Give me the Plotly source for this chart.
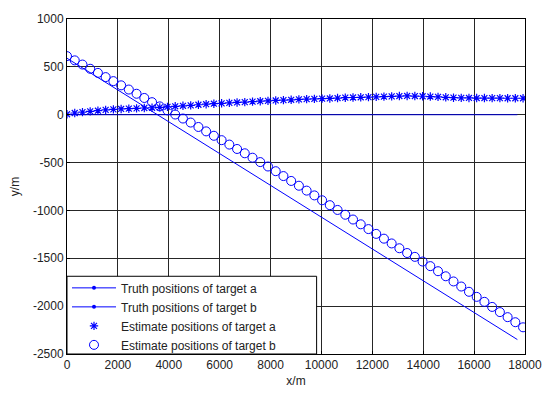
import plotly.graph_objects as go

# Truth trajectories (sampled every ~300 m)
truth_x = [0, 17700]
truth_a_y = [0, 0]
truth_b_y = [590, -2349]

# Estimated positions
est_x = [0, 304, 608, 911, 1215, 1519, 1823, 2127, 2430, 2734,
         3038, 3342, 3646, 3949, 4253, 4557, 4861, 5165, 5468, 5772,
         6076, 6380, 6684, 6987, 7291, 7595, 7899, 8203, 8506, 8810,
         9114, 9418, 9722, 10025, 10329, 10633, 10937, 11241, 11544, 11848,
         12152, 12456, 12760, 13063, 13367, 13671, 13975, 14279, 14582, 14886,
         15190, 15494, 15798, 16101, 16405, 16709, 17013, 17317, 17620, 17924]
est_a_y = [5, 18, 27, 35, 42, 50, 56, 60, 63, 66,
           70, 73, 77, 82, 88, 93, 98, 104, 110, 115,
           119, 124, 128, 132, 137, 141, 145, 149, 152, 156,
           160, 163, 166, 168, 170, 174, 178, 180, 182, 184,
           186, 189, 192, 195, 196, 195, 193, 190, 186, 182,
           178, 176, 175, 174, 174, 173, 173, 172, 172, 172]
est_b_y = [612, 568, 524, 480, 437, 393, 351, 307, 263, 219,
           175, 131, 87, 45, 2, -40, -82, -128, -174, -220,
           -266, -312, -358, -403, -449, -495, -541, -590, -641, -692,
           -742, -793, -843, -894, -945, -995, -1045, -1095, -1145, -1195,
           -1245, -1295, -1345, -1395, -1445, -1485, -1534, -1582, -1635, -1688,
           -1742, -1795, -1850, -1903, -1955, -2008, -2062, -2115, -2168, -2221]

x_ticks = [0, 2000, 4000, 6000, 8000, 10000, 12000, 14000, 16000, 18000]
x_tick_text = ["0", "2000", "4000", "6000", "8000", "10000", "12000", "14000", "16000", "18000"]
y_ticks = [1000, 500, 0, -500, -1000, -1500, -2000, -2500]
y_tick_text = ["1000", "500", "0", "-500", "-1000", "-1500", "-2000", "-2500"]

legend_names = ["Truth positions of target a", "Truth positions of target b",
                "Estimate positions of target a", "Estimate positions of target b"]

BLUE = "#0000ff"
FONT = "Liberation Sans, Arial"
fig = go.Figure()

# truth lines (no legend; proxies below carry the dot marker)
fig.add_trace(go.Scatter(x=truth_x, y=truth_a_y, mode="lines",
                         line=dict(color="#0000cc", width=1), showlegend=False))
fig.add_trace(go.Scatter(x=truth_x, y=truth_b_y, mode="lines",
                         line=dict(color=BLUE, width=1), showlegend=False))

fig.add_trace(go.Scatter(x=[None], y=[None], mode="lines+markers", name=legend_names[0],
                         line=dict(color=BLUE, width=1), marker=dict(size=4, color=BLUE)))
fig.add_trace(go.Scatter(x=[None], y=[None], mode="lines+markers", name=legend_names[1],
                         line=dict(color=BLUE, width=1), marker=dict(size=4, color=BLUE)))

fig.add_trace(go.Scatter(x=est_x, y=est_a_y, mode="markers", name=legend_names[2],
                         marker=dict(symbol="asterisk-open", size=7, color=BLUE,
                                     line=dict(color=BLUE, width=1.2))))
fig.add_trace(go.Scatter(x=est_x, y=est_b_y, mode="markers", name=legend_names[3],
                         marker=dict(symbol="circle-open", size=9, color=BLUE,
                                     line=dict(color=BLUE, width=1))))

axis_common = dict(showline=True, linecolor="black", linewidth=1, mirror=True,
                   showgrid=True, gridcolor="#262626", gridwidth=1,
                   zeroline=False, ticks="inside", ticklen=3, tickcolor="black",
                   tickfont=dict(family=FONT, size=12, color="#222"))

fig.update_layout(
    width=554, height=398,
    margin=dict(l=67, r=21, t=15, b=37),
    paper_bgcolor="white", plot_bgcolor="white",
    font=dict(family=FONT, size=12, color="#222"),
    xaxis=dict(range=[0, 18000], tickvals=x_ticks, ticktext=x_tick_text,
               title=dict(text="x/m", standoff=5, font=dict(size=12)), **axis_common),
    yaxis=dict(range=[-2500, 1000], tickvals=y_ticks, ticktext=y_tick_text,
               title=dict(text="y/m", standoff=10, font=dict(size=12)), **axis_common),
    legend=dict(x=0, y=-0.016, xanchor="left", yanchor="bottom",
                bgcolor="rgba(0,0,0,0)", borderwidth=0,
                font=dict(size=12, family=FONT),
                tracegroupgap=0, itemwidth=44),
    shapes=[dict(type="rect", xref="paper", yref="paper", x0=0, x1=0.545, y0=0, y1=0.232,
                 fillcolor="white", line=dict(color="black", width=1), layer="above")],
)

fig.write_html("out.html")
